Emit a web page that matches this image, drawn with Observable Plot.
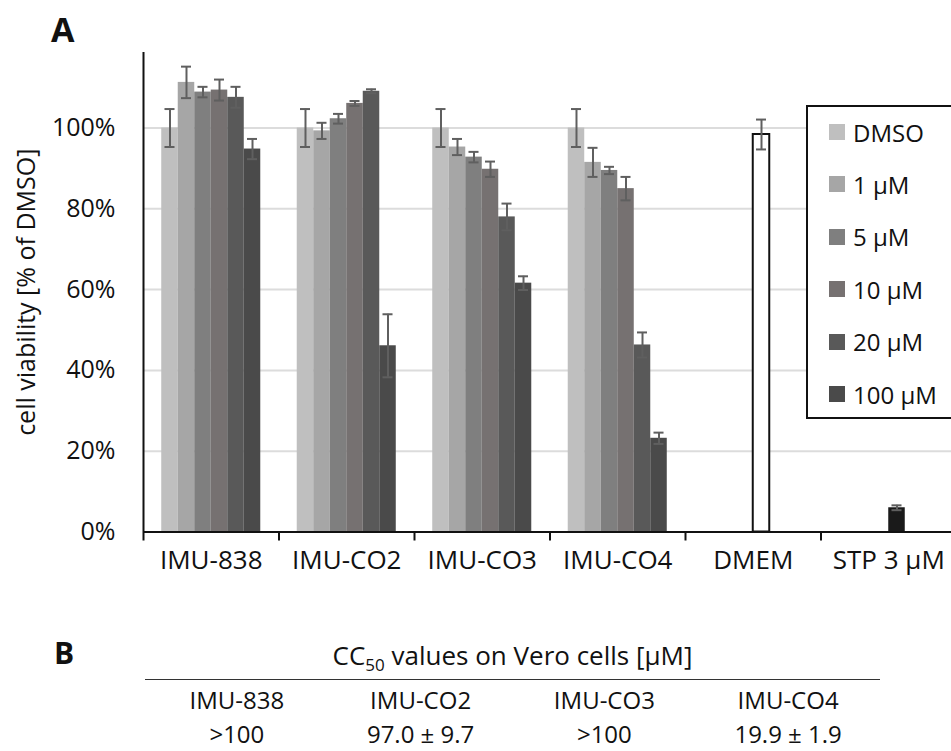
<!DOCTYPE html>
<html>
<head>
<meta charset="utf-8">
<script src="https://cdn.jsdelivr.net/npm/d3@7"></script>
<script src="https://cdn.jsdelivr.net/npm/@observablehq/plot@0.6"></script>
<style>
  html, body { margin: 0; padding: 0; background: #fff; overflow: hidden; }
  body { width: 951px; height: 751px; position: relative; font-family: "Open Sans", sans-serif; color: #111; }
  #chart { position: absolute; left: 0; top: 0; }
  .panel { position: absolute; font-weight: bold; font-family: "Open Sans", sans-serif; line-height: 1; }
  #legend { position: absolute; left: 806px; top: 105px; width: 170px; height: 314px; border: 2px solid #111; background: #fff; box-sizing: border-box; }
  .item { position: absolute; left: 21px; height: 30px; display: flex; align-items: center; font-size: 24px; }
  .sw { width: 16px; height: 16px; margin-right: 8px; }
  .row { position: absolute; left: 145px; width: 735px; display: flex; font-size: 24px; line-height: 28px; height: 28px; }
  .row div { flex: 1; text-align: center; }
  #rule { position: absolute; left: 145px; width: 735px; top: 679px; border-top: 1.5px solid #333; }
  sub { font-size: 17px; vertical-align: -6px; line-height: 0; }
</style>
</head>
<body>
<div id="chart"></div>
<div class="panel" id="labA" style="left:51px; top:12px; font-size:34px;">A</div>
<div id="legend"></div>
<div class="panel" id="labB" style="left:54px; top:638px; font-size:30px;">B</div>
<div class="row" style="top:641px; font-size:26px;"><div>CC<sub>50</sub> values on Vero cells [µM]</div></div>
<div id="rule"></div>
<div class="row" id="hdr" style="top:686px;"></div>
<div class="row" id="vals" style="top:720px;"></div>
<script>
// ---------- data ----------
const groups = ["IMU-838", "IMU-CO2", "IMU-CO3", "IMU-CO4", "DMEM", "STP 3 µM"];
const series = ["DMSO", "1 µM", "5 µM", "10 µM", "20 µM", "100 µM"];
const compounds = ["IMU-838", "IMU-CO2", "IMU-CO3", "IMU-CO4"];

const imu838Mean = [100, 111.3, 108.9, 109.4, 107.6, 94.8];
const imu838Err  = [4.7, 3.9, 1.3, 2.6, 2.6, 2.5];
const co2Mean    = [100, 99.3, 102.3, 106.1, 109.1, 46.1];
const co2Err     = [4.7, 2.0, 1.2, 0.6, 0.5, 7.8];
const co3Mean    = [100, 95.3, 92.8, 89.8, 78.0, 61.6];
const co3Err     = [4.7, 2.0, 1.3, 1.9, 3.3, 1.7];
const co4Mean    = [100, 91.5, 89.5, 85.0, 46.3, 23.2];
const co4Err     = [4.7, 3.6, 0.9, 2.9, 3.1, 1.4];

const controls    = ["DMEM", "STP 3 µM"];
const controlMean = [98.4, 6.0];
const controlErr  = [3.7, 0.6];
const controlSlot = "10 µM";

const yTicks = [0, 20, 40, 60, 80, 100];

const seriesColors  = ["#bfbfbf", "#a6a6a6", "#7f7f7f", "#767171", "#595959", "#4a4a4a"];
const controlColors = ["#ffffff", "#1a1a1a"];

const cc50Compounds = ["IMU-838", "IMU-CO2", "IMU-CO3", "IMU-CO4"];
const cc50Values    = [">100", "97.0 ± 9.7", ">100", "19.9 ± 1.9"];

// ---------- table built from arrays ----------
const means = [imu838Mean, co2Mean, co3Mean, co4Mean];
const errs  = [imu838Err, co2Err, co3Err, co4Err];
const rows = [];
compounds.forEach((c, ci) => series.forEach((s, si) =>
  rows.push({group: c, series: s, key: s, value: means[ci][si], err: errs[ci][si]})));
controls.forEach((c, i) =>
  rows.push({group: c, series: controlSlot, key: c, value: controlMean[i], err: controlErr[i]}));

// layout (in group units on the x scale)
const slot = 0.1218;
const cap = 0.037;
const left = d => groups.indexOf(d.group) + 0.5 + (series.indexOf(d.series) - series.length / 2) * slot;
const mid = d => left(d) + slot / 2;
const caps = rows.flatMap(d => [{...d, y: d.value + d.err}, {...d, y: d.value - d.err}]);

const plot = Plot.plot({
  width: 951,
  height: 600,
  marginLeft: 143,
  marginRight: -5,
  marginTop: 52,
  marginBottom: 68.5,
  style: {fontFamily: "Open Sans, sans-serif", fontSize: "25px", color: "#111", background: "transparent"},
  x: {domain: [0, groups.length]},
  y: {domain: [0, 118.7]},
  color: {domain: [...series, ...controls], range: [...seriesColors, ...controlColors]},
  marks: [
    Plot.gridY(yTicks.filter(t => t > 0), {stroke: "#dcdcdc", strokeOpacity: 1, strokeWidth: 2}),
    Plot.rectY(rows, {
      x1: left, x2: d => left(d) + slot, y1: 0, y2: "value", fill: "key",
      stroke: d => d.key === "DMEM" ? "#111" : "none", strokeWidth: 2
    }),
    Plot.ruleX(rows, {x: mid, y1: d => d.value - d.err, y2: d => d.value + d.err, stroke: "#5f5f5f", strokeWidth: 2}),
    Plot.ruleY(caps, {x1: d => mid(d) - cap, x2: d => mid(d) + cap, y: "y", stroke: "#5f5f5f", strokeWidth: 2}),
    Plot.ruleY([0], {stroke: "#111", strokeWidth: 2}),
    Plot.ruleX([0], {stroke: "#111", strokeWidth: 2, insetBottom: -9}),
    Plot.ruleX(groups.map((g, i) => i + 1), {y1: 0, y2: 0, insetBottom: -9, stroke: "#111", strokeWidth: 2}),
    Plot.axisY(yTicks, {
      tickFormat: d => `${d}%`, tickSize: 0, tickPadding: 28, fontSize: 25,
      label: "cell viability [% of DMSO]", labelAnchor: "center", labelOffset: 126, labelArrow: "none"
    }),
    Plot.axisX(groups.map((g, i) => i + 0.5), {
      tickFormat: v => groups[Math.floor(v)], tickSize: 0, tickPadding: 19, fontSize: 26, label: null
    })
  ]
});
document.getElementById("chart").appendChild(plot);

// legend
const legend = document.getElementById("legend");
series.forEach((s, i) => {
  const it = document.createElement("div");
  it.className = "item";
  it.style.top = (10 + i * 52.4) + "px";
  it.innerHTML = `<span class="sw" style="background:${seriesColors[i]}"></span><span>${s}</span>`;
  legend.appendChild(it);
});

// panel B
document.getElementById("hdr").innerHTML = cc50Compounds.map(c => `<div>${c}</div>`).join("");
document.getElementById("vals").innerHTML = cc50Values.map(v => `<div>${v}</div>`).join("");
</script>
</body>
</html>
